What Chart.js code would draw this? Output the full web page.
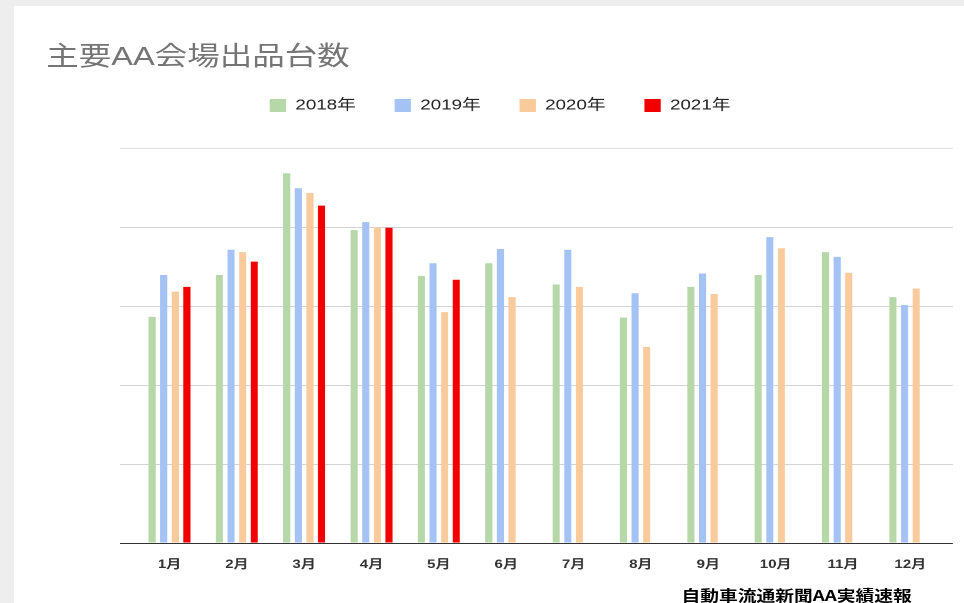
<!DOCTYPE html>
<html>
<head>
<meta charset="utf-8">
<title>主要AA会場出品台数</title>
<script src="https://cdn.jsdelivr.net/npm/chart.js@4.4.1/dist/chart.umd.min.js"></script>
<style>
    html, body { margin: 0; padding: 0; overflow: hidden; }
    html { background: #eeeeee; }
    body { width: 964px; height: 603px; background: #eeeeee; position: relative; }
    .card { position: absolute; left: 14px; top: 6px; width: 950px; height: 597px; background: #ffffff; }
    /* the reference is stretched sideways, so the whole chart is drawn narrow and widened */
    #wrap { position: absolute; left: 0; top: 0; width: 771px; height: 603px; overflow: hidden;
            transform: scale(1.2503, 1); transform-origin: 0 0; }
    #chartBox { position: absolute; left: 0; top: 0; width: 771px; height: 603px; }
    .title { position: absolute; left: 37px; top: 43px; font: 26px/26px "Liberation Sans", "Noto Sans CJK JP", sans-serif;
             color: #757575; white-space: nowrap; }
    .source { position: absolute; left: 545px; top: 587px; font: bold 15px/15px "Noto Sans CJK JP", sans-serif;
              color: #000; white-space: nowrap; }
</style>
</head>
<body>
<div class="card"></div>
<div id="wrap">
    <div id="chartBox"><canvas id="auctionChart"></canvas></div>
    <div class="title">主要AA会場出品台数</div>
    <div class="source">自動車流通新聞AA実績速報</div>
</div>
<script>
// Data (y labels are not legible, units estimated)
const months = ['1月', '2月', '3月', '4月', '5月', '6月', '7月', '8月', '9月', '10月', '11月', '12月'];
const units2018 = [28600, 33900, 46800, 39600, 33800, 35400, 32700, 28500, 32400, 33900, 36800, 31100];
const units2019 = [33900, 37100, 44900, 40600, 35400, 37200, 37100, 31600, 34100, 38700, 36200, 30100];
const units2020 = [31800, 36800, 44300, 39900, 29200, 31100, 32400, 24800, 31500, 37300, 34200, 32200];
const units2021 = [32400, 35600, 42700, 39900, 33300, null, null, null, null, null, null, null];
const gridValues = [10000, 20000, 30000, 40000, 50000];

const colors = {
    y2018: '#b6d7a8',
    y2019: '#a4c2f4',
    y2020: '#f9cb9c',
    y2021: '#f20000'
};

const fontFamily = '"Liberation Sans", Arial, "Noto Sans CJK JP", sans-serif';

// Legend takes a fixed height so the plot starts at the right place
const legendSpacer = {
    id: 'legendSpacer',
    beforeLayout(chart) {
        const legend = chart.legend;
        if (legend && !legend._spaced) {
            const fit = legend.fit;
            legend.fit = function() {
                fit.call(this);
                this.height = 81;
            };
            legend._spaced = true;
        }
    }
};

// Horizontal grid lines run wider than the bars, like the original
const wideGrid = {
    id: 'wideGrid',
    beforeDatasetsDraw(chart) {
        const ctx = chart.ctx;
        const y = chart.scales.y;
        ctx.save();
        ctx.lineWidth = 1;
        gridValues.forEach(v => {
            const py = Math.round(y.getPixelForValue(v)) + 0.5;
            ctx.strokeStyle = v === 50000 ? '#e2e2e2' : '#d4d4d4';
            ctx.beginPath();
            ctx.moveTo(96, py);
            ctx.lineTo(762, py);
            ctx.stroke();
        });
        ctx.restore();
    },
    afterDatasetsDraw(chart) {
        const ctx = chart.ctx;
        const py = Math.round(chart.scales.y.getPixelForValue(0)) + 0.5;
        ctx.save();
        ctx.strokeStyle = '#333333';
        ctx.lineWidth = 1;
        ctx.beginPath();
        ctx.moveTo(96, py);
        ctx.lineTo(762, py);
        ctx.stroke();
        ctx.restore();
    }
};

function makeDataset(label, data, color) {
    return {
        label: label,
        data: data,
        backgroundColor: color,
        borderWidth: 0,
        barPercentage: 0.61,
        categoryPercentage: 0.69
    };
}

const ctx = document.getElementById('auctionChart').getContext('2d');
new Chart(ctx, {
    type: 'bar',
    data: {
        labels: months,
        datasets: [
            makeDataset('2018年', units2018, colors.y2018),
            makeDataset('2019年', units2019, colors.y2019),
            makeDataset('2020年', units2020, colors.y2020),
            makeDataset('2021年', units2021, colors.y2021)
        ]
    },
    options: {
        responsive: true,
        maintainAspectRatio: false,
        animation: false,
        devicePixelRatio: 2,
        layout: {
            padding: { top: 67, left: 45, right: 16, bottom: 16 }
        },
        plugins: {
            title: { display: false },
            tooltip: { enabled: false },
            legend: {
                position: 'top',
                labels: {
                    boxWidth: 13,
                    boxHeight: 13,
                    padding: 31,
                    color: '#222222',
                    font: { family: fontFamily, size: 15 }
                }
            }
        },
        scales: {
            x: {
                grid: { display: false, drawTicks: false },
                border: { display: false },
                ticks: {
                    padding: 15,
                    color: '#333333',
                    font: { family: fontFamily, size: 12, weight: 'bold' }
                }
            },
            y: {
                min: 0,
                max: 50000,
                grid: { display: false },
                border: { display: false },
                ticks: { display: false, stepSize: 10000 },
                afterFit: function(scale) {
                    scale.width = 63.6;
                }
            }
        }
    },
    plugins: [legendSpacer, wideGrid]
});
</script>
</body>
</html>
